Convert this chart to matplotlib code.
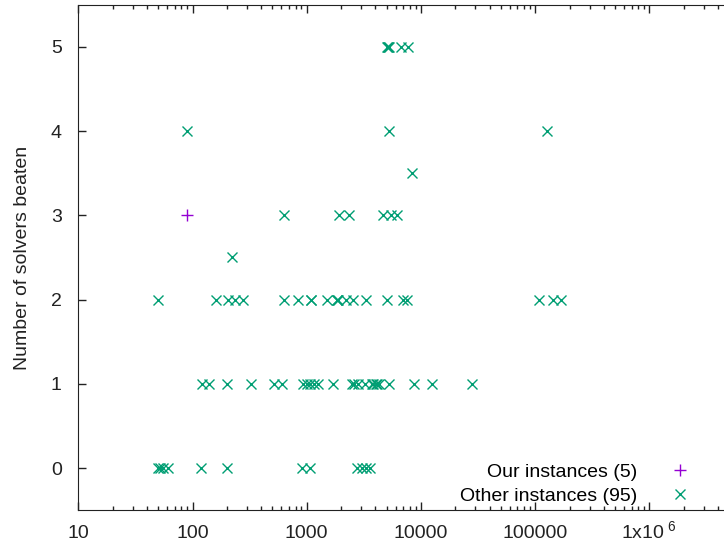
import matplotlib
matplotlib.use("Agg")
import matplotlib.pyplot as plt
from matplotlib.ticker import LogLocator, FixedLocator, NullFormatter

plt.rcParams['font.family'] = ['Liberation Sans', 'DejaVu Sans']
plt.rcParams['mathtext.default'] = 'regular'

# our instances (only one visible in range)
our_x = [90]
our_y = [3]

# other instances, one list per row of "solvers beaten"
x5 = [5050, 5150, 5200, 5250, 6650, 7650]
x4 = [90, 5300, 128000]
x35 = [8360]
x3 = [630, 1920, 2360, 4660, 5470, 6180]
x25 = [223]
x2 = [50, 161, 203, 236, 278, 627, 844, 1080, 1100, 1500, 1840, 1860, 1880,
      2210, 2540, 3300, 5080, 6970, 7560, 108000, 144000, 167000]
x1 = [120, 140, 199, 324, 514, 604, 934, 1000, 1070, 1160, 1264, 1711, 2477,
      2600, 2830, 3240, 3735, 3800, 4050, 4150, 4260, 5260, 8710, 12400, 27900]
x0 = [50, 52, 54.8, 61.4, 119, 199, 910, 1070, 2760, 3050, 3310, 3590]

rows = [(5, x5), (4, x4), (3.5, x35), (3, x3), (2.5, x25), (2, x2), (1, x1), (0, x0)]
other_x = []
other_y = []
for yv, xs in rows:
    other_x += xs
    other_y += [yv] * len(xs)

xticks = [10, 100, 1000, 10000, 100000, 1000000]
xticklabels = ['10', '100', '1000', '10000', '100000', '1x10$^{\\ 6}$']
yticks = [0, 1, 2, 3, 4, 5]

fig = plt.figure(figsize=(7.24, 5.5), dpi=100)
# right edge of the plot box sits just past the image border
ax = fig.add_axes([78.3 / 724, 39.7 / 550, 659.9 / 724, 505.6 / 550])

ax.plot(our_x, our_y, linestyle='none', marker='+', color='#9400d3',
        markersize=8, markeredgewidth=1.0, label='Our instances (5)')
ax.plot(other_x, other_y, linestyle='none', marker='x', color='#009e73',
        markersize=7.5, markeredgewidth=1.0, label='Other instances (95)')

ax.set_xscale('log')
ax.set_xlim(10, 6e6)
ax.set_ylim(-0.5, 5.5)
ax.xaxis.set_major_locator(FixedLocator(xticks))
ax.set_xticklabels(xticklabels)
ax.xaxis.set_minor_locator(LogLocator(base=10, subs=range(2, 10), numticks=20))
ax.xaxis.set_minor_formatter(NullFormatter())
ax.set_yticks(yticks)

ax.tick_params(which='both', direction='in', top=True, right=True,
               labelsize=14, colors='#222222', width=1)
ax.tick_params(which='major', length=6)
ax.tick_params(which='minor', length=3)
ax.tick_params(axis='x', pad=20)
ax.tick_params(axis='y', pad=12)
for lbl in ax.get_xticklabels():
    lbl.set_verticalalignment('baseline')
for s in ax.spines.values():
    s.set_color('#222222')

ax.set_ylabel('Number of solvers beaten', fontsize=14, color='#222222', labelpad=14)

ax.legend(loc='upper right', bbox_to_anchor=(692 / 724, 1 - 463 / 550),
          bbox_transform=fig.transFigure, frameon=False, markerfirst=False,
          fontsize=14, handlelength=1.2, handletextpad=1.6, borderpad=0,
          labelspacing=0.35, borderaxespad=0)

fig.savefig('out.png', dpi=100)
